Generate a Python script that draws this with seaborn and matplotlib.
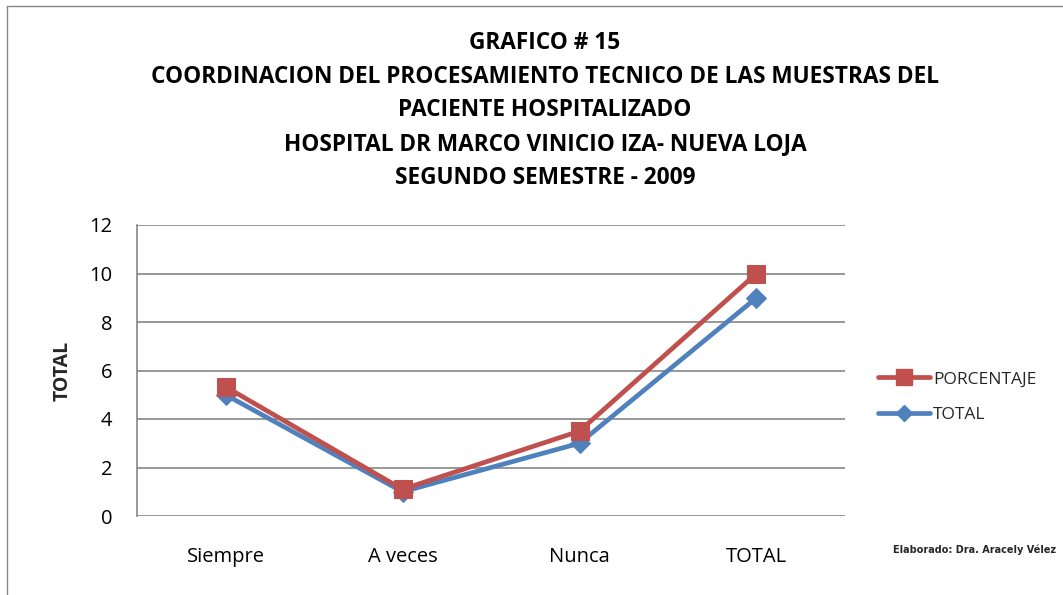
import pandas as pd
import matplotlib.pyplot as plt
import seaborn as sns
from matplotlib.lines import Line2D

categorias = ["Siempre", "A veces", "Nunca", "TOTAL"]
total = [5, 1, 3, 9]
porcentaje = [5.33, 1.1, 3.5, 10]
y_ticks = [0, 2, 4, 6, 8, 10, 12]

titulo = [
    "GRAFICO # 15",
    "COORDINACION DEL PROCESAMIENTO TECNICO DE LAS MUESTRAS DEL",
    "PACIENTE HOSPITALIZADO",
    "HOSPITAL DR MARCO VINICIO IZA- NUEVA LOJA",
    "SEGUNDO SEMESTRE - 2009",
]

df = pd.DataFrame({
    "categoria": categorias * 2,
    "valor": total + porcentaje,
    "serie": ["TOTAL"] * 4 + ["PORCENTAJE"] * 4,
})

sns.set_style("white")
plt.rcParams["font.family"] = ["Open Sans", "DejaVu Sans"]

rojo = "#C0504D"
azul = "#4F81BD"
gris = "#868686"

fig = plt.figure(figsize=(10.63, 5.95), dpi=100)
ax = fig.add_axes([137 / 1063, 1 - 516 / 595, (845 - 137) / 1063, (516 - 225) / 595])

sns.lineplot(
    data=df[df["serie"] == "TOTAL"],
    x="categoria", y="valor",
    color=azul, linewidth=3.4, marker="D", markersize=10,
    markeredgecolor=azul, ax=ax, legend=False,
)
sns.lineplot(
    data=df[df["serie"] == "PORCENTAJE"],
    x="categoria", y="valor",
    color=rojo, linewidth=3.4, marker="s", markersize=12.5,
    markeredgecolor=rojo, ax=ax, legend=False,
)

ax.set_xlim(-0.5, 3.5)
ax.set_ylim(0, 12)
ax.set_yticks(y_ticks)
ax.yaxis.grid(True, color=gris, linewidth=1.2)
ax.set_axisbelow(True)
for s in ["top", "right", "bottom"]:
    ax.spines[s].set_visible(False)
ax.spines["left"].set_color(gris)
ax.spines["left"].set_linewidth(1.2)
ax.tick_params(axis="both", length=0, labelsize=14.5, colors="black")
ax.tick_params(axis="y", pad=18)
ax.tick_params(axis="x", pad=22)
ax.set_xlabel("")
ax.set_ylabel("TOTAL", fontsize=14, fontweight="bold", labelpad=12)

ys = [43, 77, 110, 144, 178]
for linea, y in zip(titulo, ys):
    fig.text(545 / 1063, 1 - y / 595, linea, ha="center", va="center",
             fontsize=16.3, fontweight="bold", color="black")

handles = [
    Line2D([], [], color=rojo, linewidth=3.4, marker="s", markersize=11),
    Line2D([], [], color=azul, linewidth=3.4, marker="D", markersize=8),
]
fig.legend(handles, ["PORCENTAJE", "TOTAL"], loc="center left",
           bbox_to_anchor=(862 / 1063, 1 - 397 / 595), frameon=False,
           fontsize=12.5, handlelength=3.0, handletextpad=0.2, labelspacing=1.1)

fig.text(975 / 1063, 1 - 550 / 595, "Elaborado: Dra. Aracely Vélez",
         ha="center", va="center", fontsize=7, fontweight="bold",
         family=["Liberation Sans Narrow", "DejaVu Sans Condensed", "DejaVu Sans"])

fig.add_artist(Line2D([7 / 1063, 7 / 1063], [0, 1 - 6 / 595], color=gris, linewidth=1))
fig.add_artist(Line2D([7 / 1063, 1], [1 - 6 / 595, 1 - 6 / 595], color=gris, linewidth=1))

fig.savefig("out.png", dpi=100)
